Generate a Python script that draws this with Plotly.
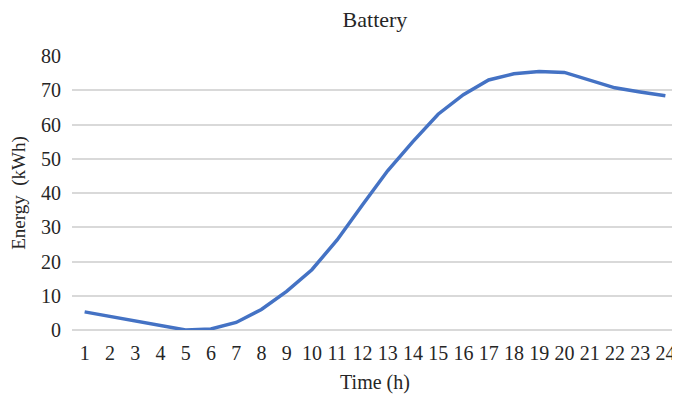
import plotly.graph_objects as go

hours = list(range(1, 25))
energy = [5.3, 4.0, 2.8, 1.3, 0.0, 0.3, 2.2, 6.0, 11.3, 17.6, 26.3, 36.5,
          46.5, 55.0, 63.0, 68.7, 73.0, 74.8, 75.5, 75.2, 73.0, 70.7, 69.5, 68.4]
y_ticks = [0, 10, 20, 30, 40, 50, 60, 70, 80]

fig = go.Figure(go.Scatter(x=hours, y=energy, mode="lines",
                           line=dict(color="#4472C4", width=3.5),
                           cliponaxis=False))

font = "Liberation Serif, Times New Roman, serif"
fig.update_layout(
    width=672, height=393,
    margin=dict(l=64, r=2, t=48, b=71, autoexpand=False),
    paper_bgcolor="white", plot_bgcolor="white",
    showlegend=False,
    font=dict(family=font, color="#262626", size=20),
    title=dict(text="Battery", x=0.5, xanchor="center", xref="paper",
               y=0.971, yanchor="middle", yref="container",
               font=dict(family=font, size=22, color="#262626")),
    xaxis=dict(range=[0.5, 24.5], tickmode="array", tickvals=hours,
               ticktext=[str(h) for h in hours], showgrid=False, zeroline=False,
               showline=False, ticks="", tickfont=dict(size=20),
               ticklabelstandoff=9,
               title=dict(text="Time (h)", font=dict(size=20), standoff=11)),
    yaxis=dict(range=[0, 80], tickmode="array", tickvals=y_ticks,
               showgrid=True, gridcolor="#d9d9d9", gridwidth=1.5,
               zeroline=True, zerolinecolor="#d9d9d9", zerolinewidth=1.5,
               showline=False, ticks="", tickfont=dict(size=20),
               ticklabelstandoff=10,
               title=dict(text="Energy  (kWh)", font=dict(size=19), standoff=24)),
)

fig.write_html("out.html")
